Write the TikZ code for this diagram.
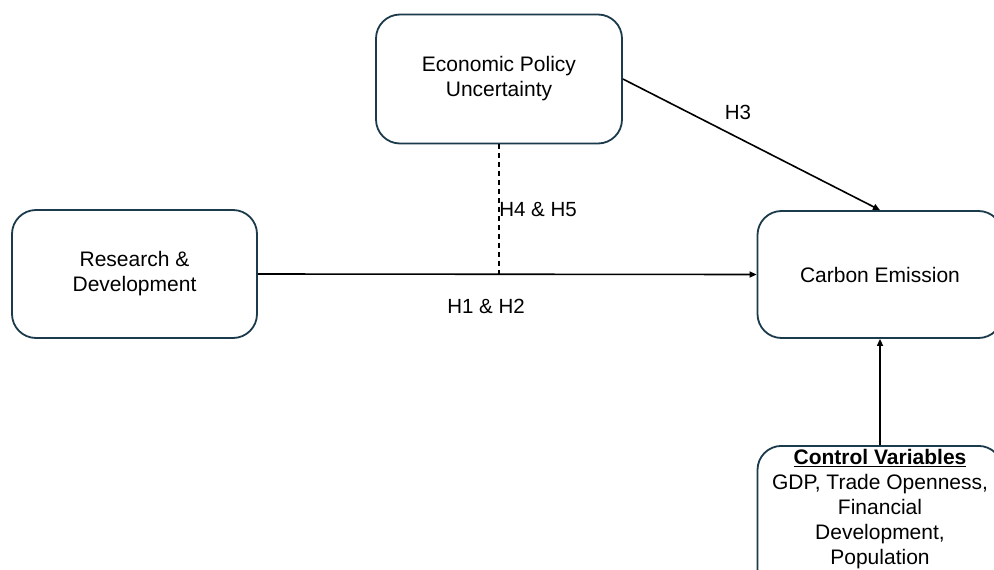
\documentclass[tikz,border=0pt]{standalone}
\usepackage{fontspec}
\setmainfont{Liberation Sans}
\usetikzlibrary{arrows.meta}
\definecolor{boxline}{HTML}{1B3A4B}
\tikzset{
  x=1pt,y=1pt,
  vbox/.style={draw=boxline,line width=1.8pt,rounded corners=24pt,fill=white,align=center,
    font=\fontsize{21}{25}\selectfont,inner sep=0pt},
  conn/.style={line width=1.6pt,-{Triangle[length=7pt,width=6pt]}},
  lbl/.style={font=\fontsize{20.5}{25}\selectfont,inner sep=0pt}
}
\begin{document}
\begin{tikzpicture}
\useasboundingbox (0,0) rectangle (994,-570);
\clip (0,0) rectangle (994,-570);
\node[vbox,minimum width=246pt,minimum height=129pt] (epu) at (499,-79) {Economic Policy\\Uncertainty};
\node[vbox,minimum width=245pt,minimum height=128pt] (rd) at (134.5,-274) {Research \&\\Development};
\node[vbox,minimum width=245pt,minimum height=127pt] (ce) at (880,-274.5) {Carbon Emission};
\node[vbox,minimum width=245pt,anchor=north,inner ysep=3pt] (cv) at (880,-445)
  {\textbf{\underline{Control Variables}}\\GDP, Trade Openness,\\Financial\\Development,\\Population\\[6pt]};
\coordinate (j) at (499,-274);
\draw[conn] (rd.east) -- (ce.west);
\draw[line width=1.6pt,dashed,dash pattern=on 5pt off 4pt] (epu.south) -- (j);
\draw[conn] (epu.east) -- (ce.north);
\draw[conn] (cv.north) -- (ce.south);
\node[lbl] (h3) at (738,-112) {H3};
\node[lbl] (h45) at (538,-210) {H4 \& H5};
\node[lbl] (h12) at (486,-306) {H1 \& H2};
\end{tikzpicture}
\end{document}
